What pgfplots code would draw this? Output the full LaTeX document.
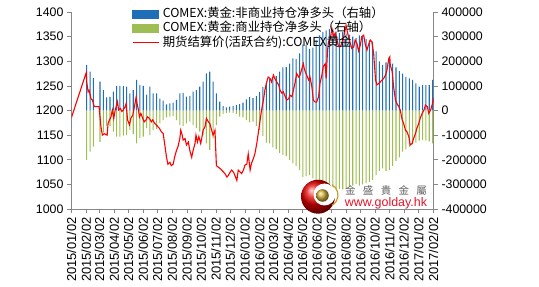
\documentclass[border=0pt]{standalone}
\usepackage{pgfplots}
\usepackage{pgfplotstable}
\pgfplotsset{compat=1.18}
\usepackage{fontspec}
\setmainfont{Liberation Sans}
\newfontfamily\cjk{Noto Sans CJK SC}
\definecolor{barblue}{RGB}{31,110,184}
\definecolor{bargreen}{RGB}{158,190,84}
\definecolor{axgray}{RGB}{134,134,134}
\definecolor{logored}{RGB}{225,20,40}

\pgfplotstableread{
day noncomm comm
32 185000 -201000
39 158000 -167000
46 131000 -147000
60 117000 -127000
67 83000 -90000
74 53000 -62000
81 55000 -62000
88 77000 -86000
95 100000 -106000
102 100000 -106000
109 100000 -102000
116 97000 -100000
123 70000 -80000
130 83000 -96000
137 124000 -133000
144 104000 -112000
151 100000 -106000
158 64000 -72000
165 97000 -100000
172 70000 -79000
179 70000 -75000
186 48000 -52000
193 40000 -39000
200 25000 -28000
207 29000 -25000
214 32000 -22000
221 43000 -39000
228 70000 -59000
235 72000 -63000
242 56000 -52000
249 59000 -45000
256 77000 -59000
263 83000 -72000
270 97000 -86000
277 117000 -100000
284 151000 -133000
291 158000 -160000
298 117000 -113000
305 70000 -59000
312 36000 -25000
319 18000 -14000
326 13000 -11000
333 16000 -9000
340 18000 -11000
347 22000 -14000
354 26000 -25000
361 32000 -28000
368 45000 -39000
375 54000 -48000
382 50000 -45000
389 58000 -62000
396 76000 -79000
403 96000 -104000
410 112000 -130000
417 128000 -133000
424 130000 -150000
431 140000 -157000
438 158000 -172000
445 175000 -180000
452 176000 -185000
459 190000 -200000
466 212000 -215000
473 210000 -225000
480 232000 -242000
487 268000 -270000
494 265000 -267000
501 250000 -262000
508 255000 -276000
515 285000 -289000
522 305000 -300000
529 318000 -310000
536 325000 -318000
543 330000 -325000
550 332000 -330000
557 320000 -322000
564 315000 -318000
571 318000 -320000
578 312000 -315000
585 308000 -310000
592 300000 -305000
599 295000 -298000
606 305000 -305000
613 300000 -300000
620 290000 -295000
627 285000 -290000
634 280000 -282000
641 240000 -262000
648 200000 -245000
655 185000 -235000
662 195000 -245000
669 212000 -242000
676 190000 -225000
683 175000 -205000
690 160000 -190000
697 150000 -167000
704 137000 -158000
711 130000 -148000
718 124000 -138000
725 110000 -130000
732 97000 -122000
739 103000 -120000
746 103000 -122000
753 103000 -125000
760 124000 -133000
}\bars

\pgfplotstableread{
day price
0 1186
31 1277
32 1258
35 1238
37 1241
41 1224
44 1221
48 1208
58 1208
62 1167
65 1150
69 1153
75 1150
77 1174
80 1181
83 1187
86 1201
89 1184
92 1201
94 1208
97 1218
99 1201
103 1204
106 1198
109 1201
113 1208
115 1214
118 1181
122 1171
125 1184
129 1191
132 1205
136 1227
138 1214
141 1201
143 1187
146 1194
150 1184
153 1177
157 1181
160 1187
164 1184
168 1177
171 1181
175 1174
178 1171
182 1167
185 1164
189 1157
193 1153
196 1133
200 1105
203 1091
207 1095
210 1088
214 1091
217 1105
221 1119
224 1126
228 1143
230 1160
233 1150
235 1140
239 1143
242 1130
246 1136
249 1119
253 1105
256 1119
260 1133
262 1150
265 1136
268 1147
272 1133
274 1143
277 1160
281 1167
284 1184
288 1177
291 1174
295 1160
298 1150
302 1160
305 1088
309 1085
313 1082
316 1079
320 1075
323 1072
327 1065
330 1068
334 1075
337 1079
341 1075
344 1068
348 1058
351 1079
355 1075
358 1072
362 1079
365 1089
369 1091
372 1112
376 1079
379 1093
383 1103
386 1112
390 1133
393 1153
397 1180
400 1201
404 1221
407 1241
411 1258
414 1268
418 1265
421 1258
425 1272
428 1265
432 1258
436 1252
439 1241
443 1235
446 1238
450 1228
453 1221
457 1224
460 1231
464 1228
467 1241
471 1258
474 1275
478 1268
481 1272
485 1285
488 1295
490 1285
492 1279
495 1272
499 1262
502 1268
506 1248
509 1221
513 1217
516 1217
520 1228
523 1255
527 1272
530 1289
534 1295
536 1265
539 1323
541 1340
545 1346
548 1367
552 1350
555 1357
559 1343
562 1330
566 1330
569 1336
573 1350
576 1363
578 1373
580 1363
583 1350
587 1336
590 1326
594 1329
597 1343
601 1336
604 1321
608 1333
611 1350
615 1353
618 1336
622 1323
625 1333
629 1343
632 1340
636 1316
640 1262
643 1252
647 1255
650 1258
654 1262
657 1265
661 1272
664 1282
668 1306
670 1309
671 1292
675 1279
678 1248
682 1221
685 1214
689 1208
692 1201
696 1181
699 1174
703 1160
706 1157
710 1147
713 1130
717 1133
720 1143
724 1153
727 1164
731 1174
734 1184
738 1194
742 1201
745 1211
749 1208
752 1194
756 1201
759 1211
763 1226
}\price

\pgfplotsset{
  /pgf/number format/assume math mode=true,
  /pgf/number format/1000 sep={},
  common/.style={
    at={(71.5bp,78bp)}, anchor=south west,
    width=362bp, height=197bp, scale only axis,
    xmin=0, xmax=762,
    axis line style={draw=axgray, line width=0.75bp, -},
    tick align=outside, major tick length=4.5bp,
    tick style={draw=axgray, line width=0.75bp},
    scaled ticks=false,
    ticklabel style={font=\fontsize{12.4}{14}\selectfont, text=black},
  },
}

\begin{document}
\begin{tikzpicture}
\useasboundingbox (0,0) rectangle (539bp,287bp);

\begin{axis}[common,
  ymin=-400000, ymax=400000,
  axis x line=none, axis y line*=right,
  ytick={-400000,-300000,-200000,-100000,0,100000,200000,300000,400000},
  yticklabel style={/pgf/number format/fixed},
]
\addplot[ybar, bar width=1.05bp, bar shift=0pt, fill=barblue, draw=none] table[x=day, y=noncomm] {\bars};
\addplot[ybar, bar width=1.05bp, bar shift=0pt, fill=bargreen, draw=none] table[x=day, y=comm] {\bars};
\end{axis}

\begin{axis}[common,
  ymin=1000, ymax=1400,
  axis x line*=bottom, axis y line*=left,
  ytick={1000,1050,1100,1150,1200,1250,1300,1350,1400},
  xtick={0,31,59,90,120,151,181,212,243,273,304,334,365,396,425,456,486,517,547,578,609,639,670,700,731,762},
  xticklabels={2015/01/02,2015/02/02,2015/03/02,2015/04/02,2015/05/02,2015/06/02,2015/07/02,2015/08/02,2015/09/02,2015/10/02,2015/11/02,2015/12/02,2016/01/02,2016/02/02,2016/03/02,2016/04/02,2016/05/02,2016/06/02,2016/07/02,2016/08/02,2016/09/02,2016/10/02,2016/11/02,2016/12/02,2017/01/02,2017/02/02},
  xticklabel style={rotate=90, anchor=east, font=\fontsize{13}{14}\selectfont},
  legend cell align=left,
  legend style={at={(axis description cs:0,1)}, anchor=north west,
    xshift=60.5bp, yshift=4bp, draw=none, fill=none,
    inner sep=0pt, outer sep=0pt, row sep=2.3bp, column sep=3.7bp,
    font=\cjk\fontsize{12.4}{14}\selectfont,
    nodes={inner sep=0pt, text height=9.5bp, text depth=2.5bp}},
]
\addlegendimage{legend image code/.code={\fill[barblue] (0bp,-3.8bp) rectangle (26bp,3.8bp);}}
\addlegendentry{COMEX:黄金:非商业持仓净多头（右轴）}
\addlegendimage{legend image code/.code={\fill[bargreen] (0bp,-3.8bp) rectangle (26bp,3.8bp);}}
\addlegendentry{COMEX:黄金:商业持仓净多头（右轴）}
\addplot[color=red, line width=1.1bp, mark=none,
  legend image code/.code={\draw[red, line width=1.1bp] (0bp,0bp)--(26bp,0bp);}]
  table[x=day, y=price] {\price};
\addlegendentry{期货结算价(活跃合约):COMEX黄金}
\end{axis}

% watermark logo
\begin{scope}[x=1bp, y=1bp]
\shade[ball color=red!90!black] (318,90.3) circle (17);
\fill[white] (324.5,92.5) circle (11);
\draw[color={rgb,255:red,200;green,160;blue,40}, line width=1.2bp] (326,92) ++(60:12) arc (60:-60:12);
\shade[ball color={rgb,255:red,215;green,180;blue,60}] (322.5,91.5) circle (6.3);
\node[text=gray!75!black, font=\cjk\fontsize{10.5}{11}\selectfont, inner sep=0pt,
  text height=8bp, text depth=1bp] at (386,96.5)
  {金\hspace{7.3bp}盛\hspace{7.3bp}貴\hspace{7.3bp}金\hspace{7.3bp}屬};
\node[text=logored, font=\fontsize{12.5}{13}\selectfont, inner sep=0pt] at (386,83.5) {www.golday.hk};
\end{scope}
\end{tikzpicture}
\end{document}
